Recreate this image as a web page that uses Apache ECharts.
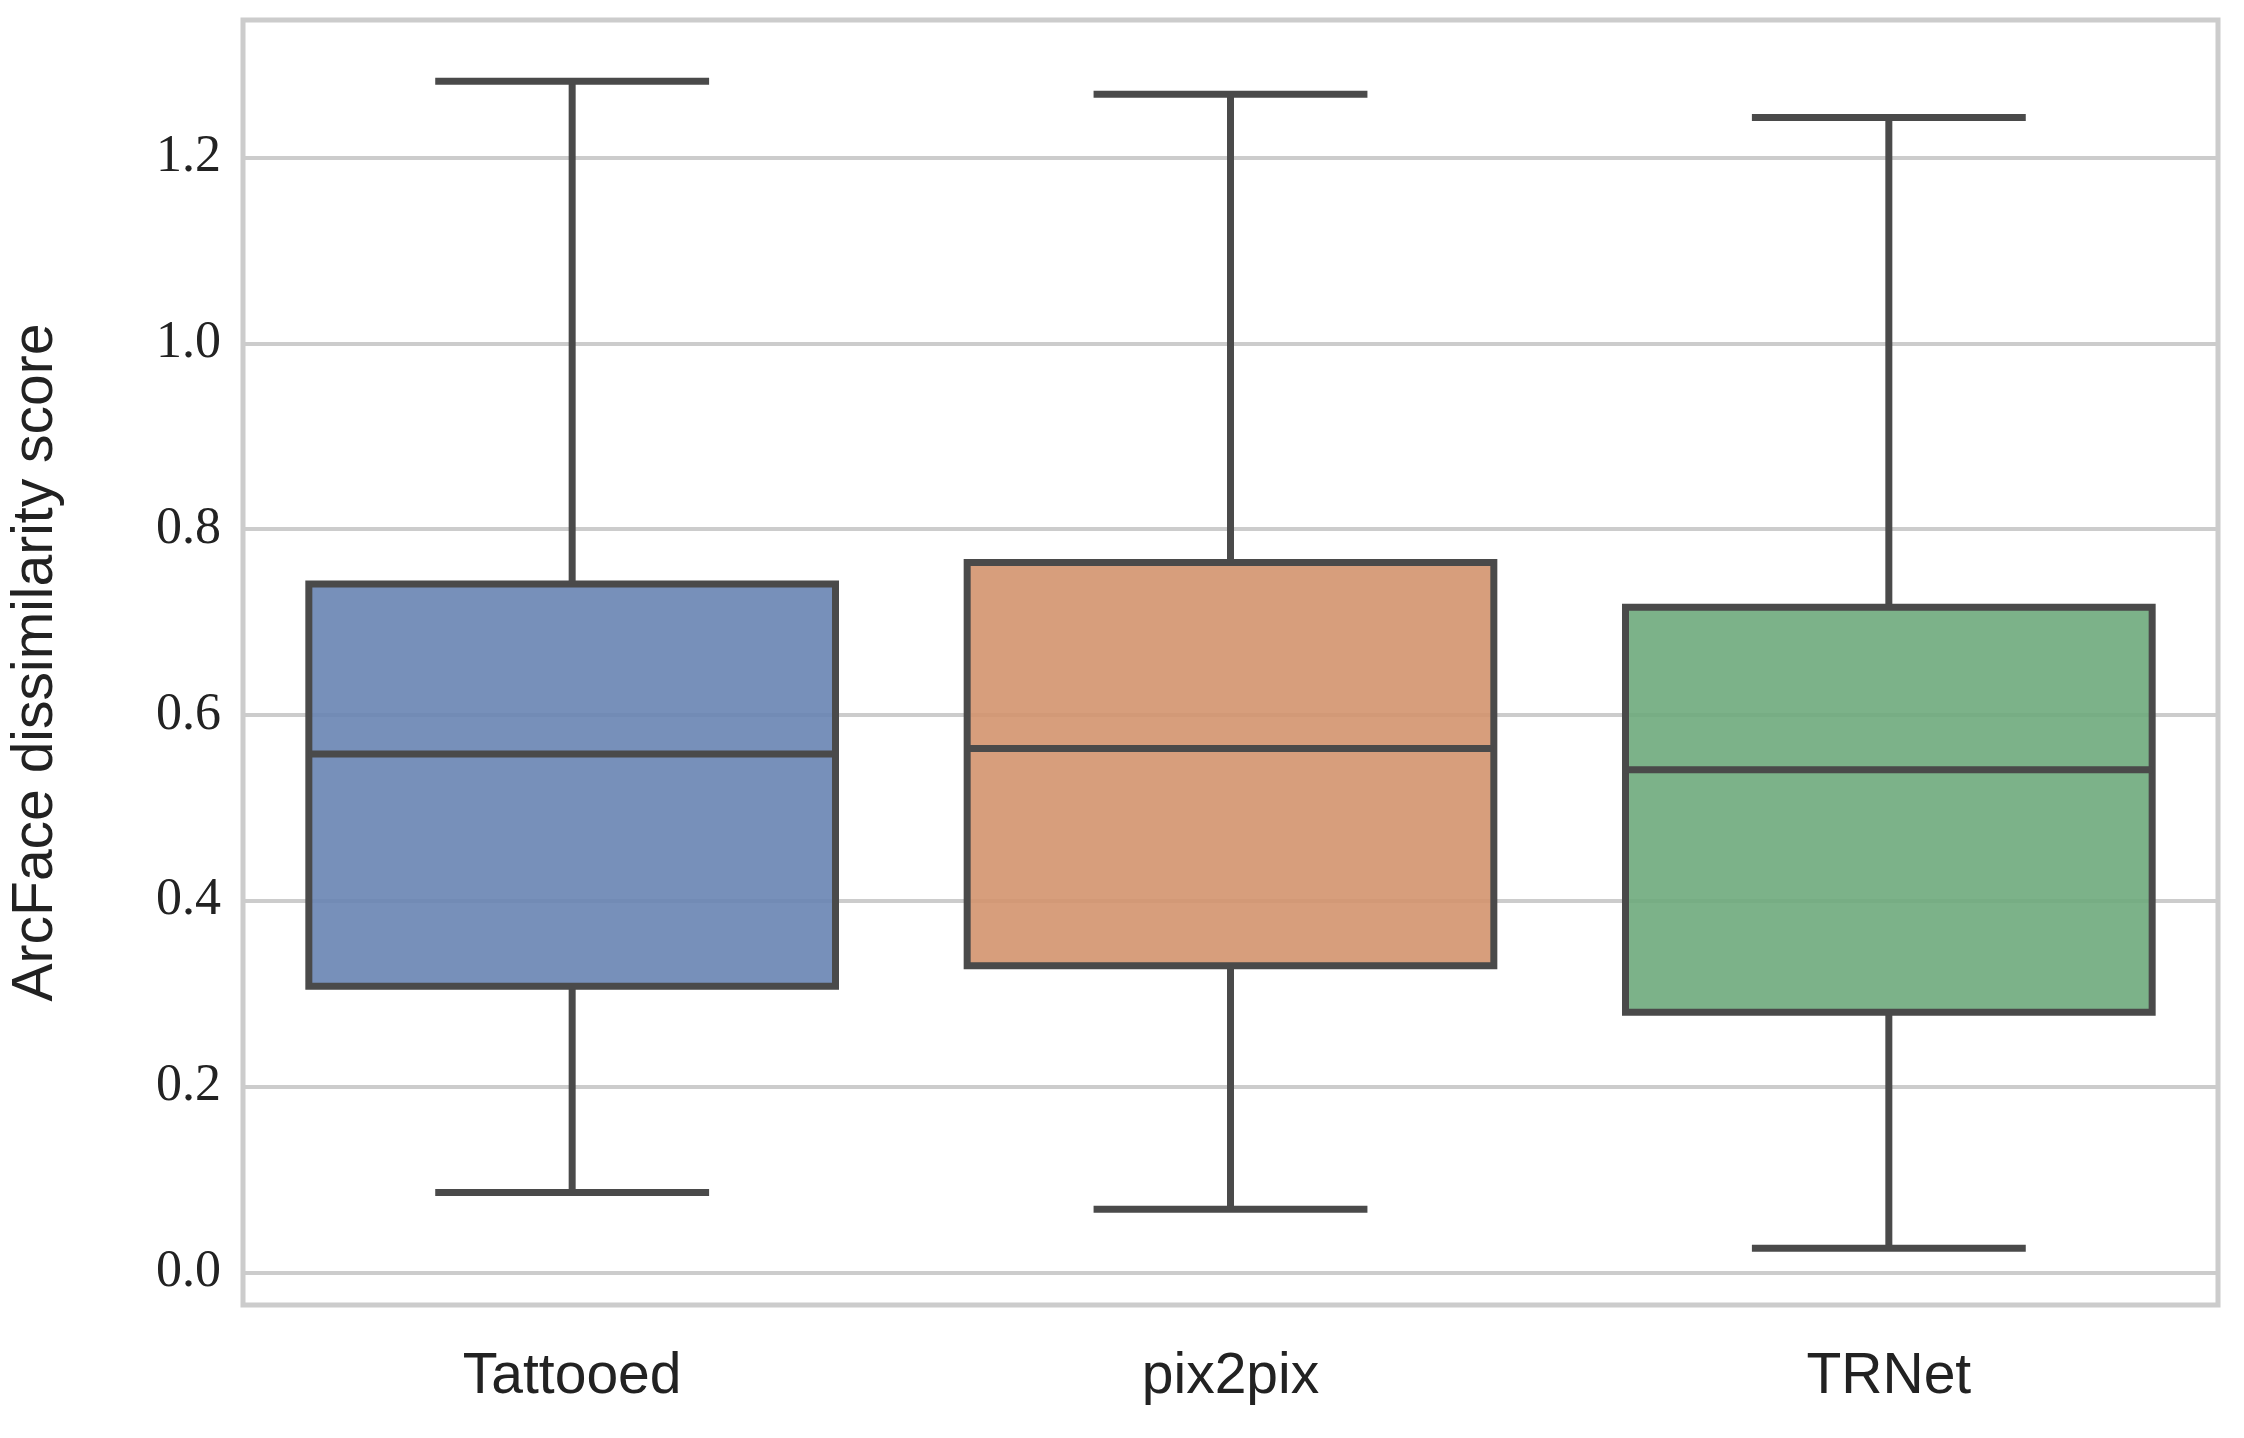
<!DOCTYPE html><html><head><meta charset="utf-8">
<script src="https://cdn.jsdelivr.net/npm/echarts@6/dist/echarts.min.js"></script>
<style>html,body{margin:0;background:#fff}#c{width:2244px;height:1438px}</style></head><body><div id="c"></div>
<script>
const categories=['Tattooed','pix2pix','TRNet'];
const lowWhisker=[0.086,0.068,0.026];
const q1=[0.308,0.330,0.280];
const median=[0.558,0.564,0.541];
const q3=[0.741,0.764,0.716];
const highWhisker=[1.282,1.268,1.243];
const colors=['rgba(104,132,179,0.9)','rgba(211,148,110,0.9)','rgba(110,170,124,0.9)'];
const tickValues=[0,0.2,0.4,0.6,0.8,1.0,1.2];
const data=categories.map((c,i)=>[i,lowWhisker[i],q1[i],median[i],q3[i],highWhisker[i]]);
const chart=echarts.init(document.getElementById('c'));
const stroke='#4a4a4a',lw=7;
chart.setOption({
 animation:false,
 grid:{left:243,right:26,top:20,bottom:133,show:true,borderColor:'#cccccc',borderWidth:5,containLabel:false},
 xAxis:{type:'category',data:categories,axisLine:{show:false},axisTick:{show:false},
  axisLabel:{fontFamily:'Liberation Sans',fontSize:57,color:'#222',margin:44}},
 yAxis:{type:'value',min:-0.035,max:1.348,name:'ArcFace dissimilarity score',nameLocation:'middle',nameGap:178,
  nameTextStyle:{fontFamily:'Liberation Sans',fontSize:57,color:'#222'},
  axisLine:{show:false},
  axisTick:{show:false,customValues:tickValues},
  axisLabel:{customValues:tickValues,fontFamily:'Liberation Serif',fontSize:52,color:'#222',margin:22,formatter:v=>v.toFixed(1)},
  splitLine:{lineStyle:{color:'#cccccc',width:4}}},
 series:[{type:'custom',data:data,encode:{x:0,y:[1,2,3,4,5]},
  renderItem:function(params,api){
   const i=api.value(0);
   const bw=api.size([1,0])[0]*0.8, cw=bw*0.52;
   const x=api.coord([i,0])[0];
   const y=k=>api.coord([i,api.value(k)])[1];
   const yl=y(1),y1=y(2),ym=y(3),y3=y(4),yh=y(5);
   const ls={stroke:stroke,lineWidth:lw,fill:null};
   return {type:'group',children:[
    {type:'line',shape:{x1:x,y1:yh,x2:x,y2:y3},style:ls},
    {type:'line',shape:{x1:x,y1:y1,x2:x,y2:yl},style:ls},
    {type:'line',shape:{x1:x-cw/2,y1:yh,x2:x+cw/2,y2:yh},style:ls},
    {type:'line',shape:{x1:x-cw/2,y1:yl,x2:x+cw/2,y2:yl},style:ls},
    {type:'rect',shape:{x:x-bw/2,y:y3,width:bw,height:y1-y3},style:{fill:colors[i],stroke:stroke,lineWidth:lw}},
    {type:'line',shape:{x1:x-bw/2,y1:ym,x2:x+bw/2,y2:ym},style:ls}
   ]};
  }}]
});
</script></body></html>
